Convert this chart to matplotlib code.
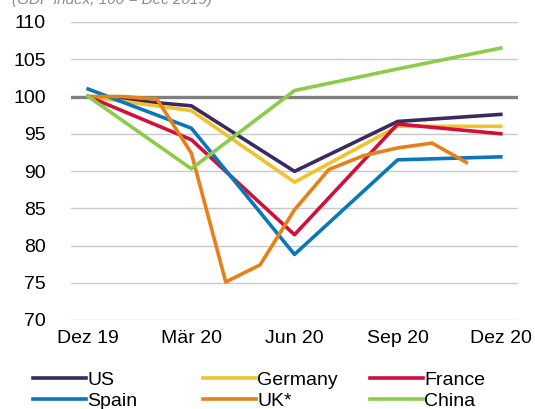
import matplotlib.pyplot as plt

plt.rcParams['font.family'] = ['Liberation Sans', 'DejaVu Sans']

quarter_labels = ["Dez 19", "Mär 20", "Jun 20", "Sep 20", "Dez 20"]
quarter_months = [0, 3, 6, 9, 12]
uk_months = list(range(12))

us = [100, 98.75, 89.95, 96.65, 97.6]
germany = [100, 98.1, 88.5, 96.0, 96.0]
france = [100, 94.2, 81.45, 96.3, 95.0]
spain = [101.0, 95.75, 78.8, 91.5, 91.9]
china = [100, 90.3, 100.8, 103.7, 106.5]
uk = [100, 100.0, 99.65, 92.4, 75.1, 77.4, 84.8, 90.2, 92.05, 93.1, 93.75, 91.15]

fig = plt.figure(figsize=(5.35, 4.09), dpi=100)
ax = fig.add_axes([71 / 535, 1 - 320 / 409, (518 - 71) / 535, (320 - 22) / 409])

lw = 2.6
h_us, = ax.plot(quarter_months, us, color="#3b2a5f", lw=lw, label="US", zorder=3)
h_de, = ax.plot(quarter_months, germany, color="#f2c12e", lw=lw, label="Germany", zorder=3)
h_fr, = ax.plot(quarter_months, france, color="#d0103a", lw=lw, label="France", zorder=3)
h_es, = ax.plot(quarter_months, spain, color="#0a78b8", lw=lw, label="Spain", zorder=3)
h_uk, = ax.plot(uk_months, uk, color="#e8801a", lw=lw, label="UK*", zorder=3)
h_cn, = ax.plot(quarter_months, china, color="#8dcb4a", lw=lw, label="China", zorder=3)

ax.axhline(100, color="#7f7f7f", lw=2.4, zorder=2)

ax.set_xlim(-0.5, 12.5)
ax.set_ylim(70, 110)
ax.set_yticks(range(70, 111, 5))
ax.set_xticks(quarter_months)
ax.set_xticklabels(quarter_labels)
ax.grid(axis="y", color="#c8c8c8", lw=1.0, zorder=1)
ax.set_axisbelow(True)
for s in ax.spines.values():
    s.set_visible(False)
ax.tick_params(length=0, labelsize=14, colors="black")
ax.tick_params(axis="y", pad=18)
ax.tick_params(axis="x", pad=7)

fig.text(0.022, 0.99, "(GDP index, 100 = Dec 2019)", style="italic",
         color="#8c8c8c", fontsize=11, va="baseline")

# one legend per column so the columns sit at fixed positions
columns = [(h_us, h_es), (h_de, h_uk), (h_fr, h_cn)]
col_x = [33, 203, 370]
for x0, col in zip(col_x, columns):
    fig.legend(col, [h.get_label() for h in col],
               loc="lower left", bbox_to_anchor=(x0 / 535, -0.003), frameon=False,
               fontsize=14, handlelength=2.7, handletextpad=0.1,
               labelspacing=0.2, borderpad=0, borderaxespad=0)

fig.savefig("out.png", dpi=100)
